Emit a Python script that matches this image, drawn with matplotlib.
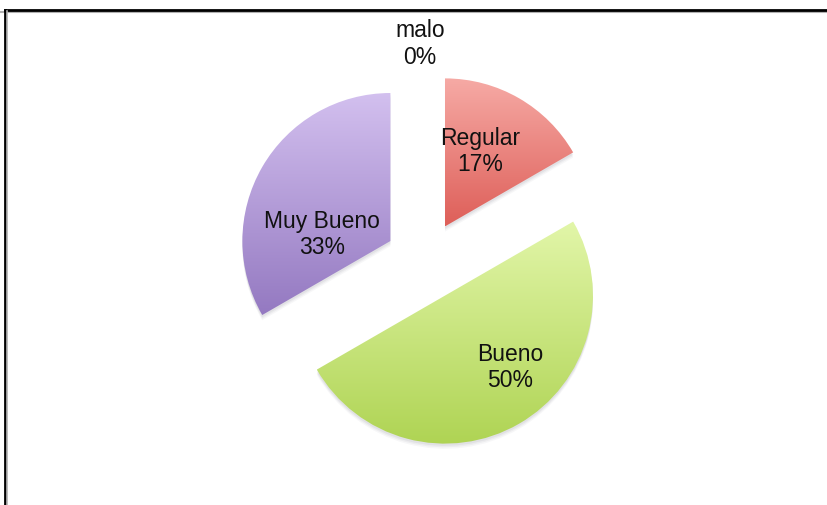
import numpy as np
import matplotlib.pyplot as plt
from matplotlib.colors import LinearSegmentedColormap
from matplotlib.lines import Line2D
from matplotlib.patches import Wedge

# survey answers
labels = ["malo", "Regular", "Bueno", "Muy Bueno"]
counts = [0, 1, 3, 2]

# gradient (top colour, bottom colour) for each slice
grad_colors = [
    ("#f7aaa5", "#f7aaa5"),
    ("#f6aaa5", "#de5f59"),
    ("#e2f6a9", "#aed352"),
    ("#d3c0ef", "#9479c1"),
]

# label placement: (angle in degrees, distance) from the slice tip,
# or from the pie centre for empty slices
label_place = [(91.3, 1.473), (65, 0.565), (-47.6, 0.65), (173.8, 0.466)]

fig = plt.figure(figsize=(8.28, 5.06), dpi=100)
ax = fig.add_axes([0, 0, 1, 1])

r_px = 148.0
cx, cy = 425.0, 262.0
W, H = 828.0, 506.0
explode = 0.27

wedges, _ = ax.pie(counts, startangle=90, counterclock=False,
                   explode=[explode] * len(counts), radius=1.0,
                   wedgeprops=dict(linewidth=0))

total = float(sum(counts))
start = 90.0
for i, w in enumerate(wedges):
    top, bot = grad_colors[i]
    w.set_facecolor("none")
    span = 360.0 * counts[i] / total
    mid = np.deg2rad(start - span / 2)
    tip = (explode * np.cos(mid), explode * np.sin(mid))
    start -= span
    if counts[i] > 0:
        # soft drop shadow under the slice
        for k, a in zip([0.035, 0.025, 0.015], [0.06, 0.08, 0.10]):
            sh = Wedge((tip[0], tip[1] - k), 1.0, w.theta1, w.theta2,
                       facecolor="#7a7a8a", alpha=a, linewidth=0, zorder=0.5)
            ax.add_patch(sh)
        # vertical gradient clipped to the slice
        verts = w.get_patch_transform().transform(w.get_path().vertices)
        x0, x1 = verts[:, 0].min(), verts[:, 0].max()
        y0, y1 = verts[:, 1].min(), verts[:, 1].max()
        cmap = LinearSegmentedColormap.from_list("g%d" % i, [bot, top])
        grad = np.linspace(0, 1, 256).reshape(-1, 1)
        im = ax.imshow(grad, cmap=cmap, extent=[x0, x1, y0, y1],
                       origin="lower", aspect="auto", zorder=1,
                       interpolation="bilinear")
        im.set_clip_path(w)
    ang, dist = label_place[i]
    ox, oy = (0.0, 0.0) if counts[i] == 0 else tip
    lx = ox + dist * np.cos(np.deg2rad(ang))
    ly = oy + dist * np.sin(np.deg2rad(ang))
    pct = 100.0 * counts[i] / total
    ax.text(lx, ly, "%s\n%d%%" % (labels[i], round(pct)), ha="center",
            va="center", fontsize=16.5, family="Liberation Sans",
            color="#111111", linespacing=1.2, zorder=3)

ax.set_xlim(-cx / r_px, (W - cx) / r_px)
ax.set_ylim(-(H - cy) / r_px, cy / r_px)
ax.set_aspect("equal")
ax.axis("off")

# chart frame: top and left edges only
fig.add_artist(Line2D([0, 1], [1 - 12.5 / H, 1 - 12.5 / H], color="#b0b0b0",
                      linewidth=1.5, transform=fig.transFigure))
fig.add_artist(Line2D([5.5 / W, 1], [1 - 10.5 / H, 1 - 10.5 / H], color="black",
                      linewidth=2.0, transform=fig.transFigure))
fig.add_artist(Line2D([5.5 / W, 5.5 / W], [0, 1 - 10.5 / H], color="black",
                      linewidth=2.0, transform=fig.transFigure))
fig.add_artist(Line2D([7.5 / W, 7.5 / W], [0, 1 - 12 / H], color="#b0b0b0",
                      linewidth=1.2, transform=fig.transFigure))

fig.savefig("out.png", dpi=100)
